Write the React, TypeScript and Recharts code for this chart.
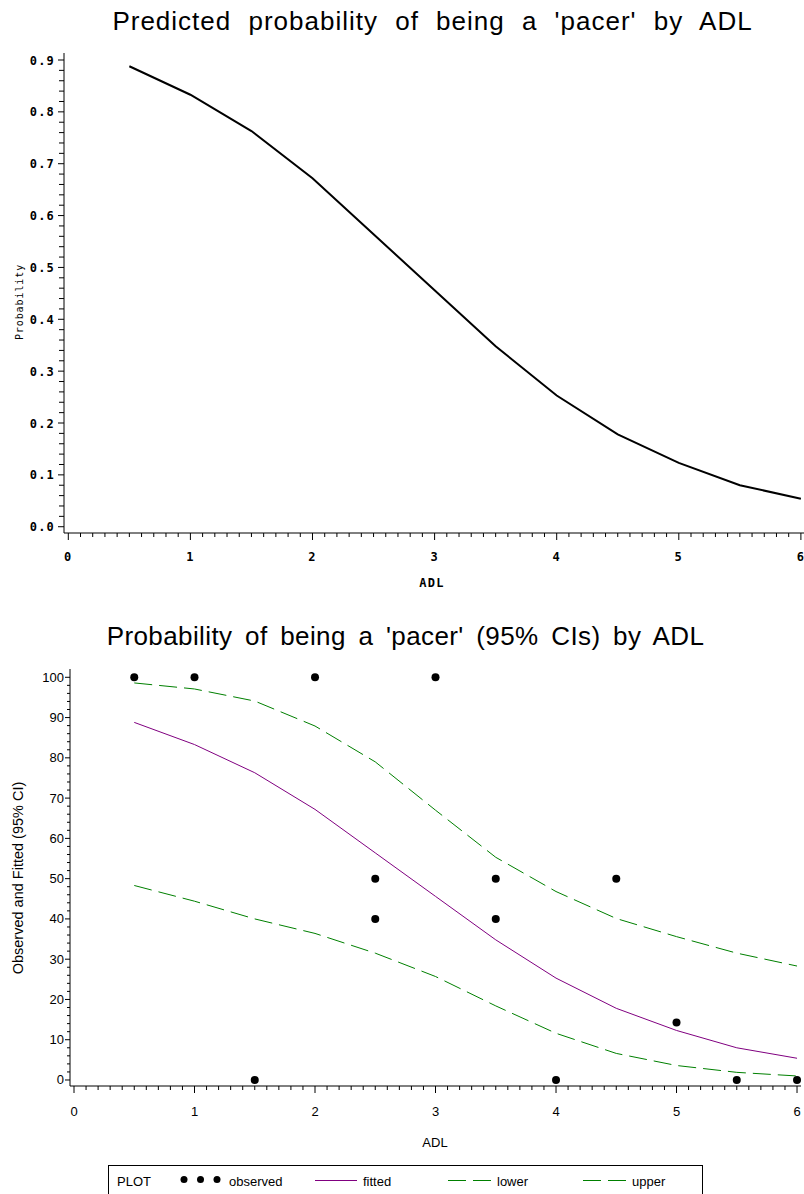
import React from 'react';
import { ComposedChart, LineChart, Line, Scatter, XAxis, YAxis } from 'recharts';

// ---- data ----
const adl = [0.5, 1, 1.5, 2, 2.5, 3, 3.5, 4, 4.5, 5, 5.5, 6];
const predicted = [0.888, 0.833, 0.763, 0.672, 0.564, 0.456, 0.348, 0.253, 0.178, 0.123, 0.08, 0.054];
const fitted = [88.8, 83.3, 76.3, 67.2, 56.4, 45.6, 34.8, 25.3, 17.8, 12.3, 8.0, 5.4];
const lower = [48.3, 44.4, 40.0, 36.4, 31.5, 25.7, 18.4, 11.6, 6.6, 3.6, 1.9, 1.0];
const upper = [98.6, 97.1, 94.1, 87.9, 79.0, 67.0, 55.3, 46.8, 40.1, 35.6, 31.5, 28.3];
const obsAdl = [0.5, 1, 1.5, 2, 2.5, 2.5, 3, 3.5, 3.5, 4, 4.5, 5, 5.5, 6];
const obsPct = [100, 100, 0, 100, 50, 40, 100, 50, 40, 0, 50, 14.3, 0, 0];

const xMajorTicks = [0, 1, 2, 3, 4, 5, 6];
const topYMajorTicks = [0, 0.1, 0.2, 0.3, 0.4, 0.5, 0.6, 0.7, 0.8, 0.9];
const botYMajorTicks = [0, 10, 20, 30, 40, 50, 60, 70, 80, 90, 100];

const topTitle = "Predicted probability of being a 'pacer' by ADL";
const botTitle = "Probability of being a 'pacer' (95% CIs) by ADL";

// minor tick helpers (subdivide major intervals)
const subdivide = (majors: number[], n: number) => {
  const out: number[] = [];
  for (let i = 0; i < majors.length - 1; i++) {
    for (let k = 0; k < n; k++) {
      out.push(+(majors[i] + ((majors[i + 1] - majors[i]) * k) / n).toFixed(6));
    }
  }
  out.push(majors[majors.length - 1]);
  return out;
};

const topData = adl.map((a, i) => ({ adl: a, prob: predicted[i] }));
const botData = adl.map((a, i) => ({ adl: a, fitted: fitted[i], lower: lower[i], upper: upper[i] }));
const obsData = obsAdl.map((a, i) => ({ adl: a, obs: obsPct[i] }));

const isIn = (arr: number[], v: number) => arr.some((m) => Math.abs(m - v) < 1e-6);

const MONO = "'DejaVu Sans Mono', 'Liberation Mono', monospace";
const SANS = "'Liberation Sans', Arial, sans-serif";

const makeXTick = (majors: number[], majorLen: number, minorLen: number, dy: number, style: any, fmt: (v: number) => string) =>
  (props: any) => {
    const { x, y, payload } = props;
    const v = payload.value;
    const major = isIn(majors, v);
    return (
      <g>
        <line x1={x} x2={x} y1={y} y2={y + (major ? majorLen : minorLen)} stroke="#000" strokeWidth={1} />
        {major && (
          <text x={x} y={y + dy} textAnchor="middle" {...style}>
            {fmt(v)}
          </text>
        )}
      </g>
    );
  };

const makeYTick = (majors: number[], majorLen: number, minorLen: number, dx: number, style: any, fmt: (v: number) => string) =>
  (props: any) => {
    const { x, y, payload } = props;
    const v = payload.value;
    const major = isIn(majors, v);
    return (
      <g>
        <line x1={x - (major ? majorLen : minorLen)} x2={x} y1={y} y2={y} stroke="#000" strokeWidth={1} />
        {major && (
          <text x={x - dx} y={y + 4.5} textAnchor="end" {...style}>
            {fmt(v)}
          </text>
        )}
      </g>
    );
  };

const topTickStyle = { fontFamily: MONO, fontWeight: 'bold', fontSize: 12, letterSpacing: 1.2, fill: '#000' };
const botTickStyle = { fontFamily: SANS, fontSize: 13, fill: '#000' };

const TopXTick = makeXTick(xMajorTicks, 7, 4, 28, topTickStyle, (v) => String(v));
const TopYTick = makeYTick(topYMajorTicks, 6, 5, 9, topTickStyle, (v) => v.toFixed(1));
const BotXTick = makeXTick(xMajorTicks, 7, 4, 30, botTickStyle, (v) => String(v));
const BotYTick = makeYTick(botYMajorTicks, 5, 3, 6, botTickStyle, (v) => String(v));

const GREEN = '#008000';
const PURPLE = '#800080';

export default function App() {
  return (
    <div style={{ position: 'absolute', left: 0, top: 0, width: 804, height: 1194, background: '#fff', overflow: 'hidden' }}>
      {/* Top chart */}
      <div style={{ position: 'absolute', left: 0, top: 0 }}>
        <LineChart width={804} height={600} data={topData} margin={{ top: 53, right: 0, left: 0, bottom: 0 }}>
          <XAxis
            xAxisId="top"
            orientation="top"
            type="number"
            dataKey="adl"
            domain={[-0.0352, 6.0254]}
            height={0}
            tick={false}
            tickLine={false}
            axisLine={{ stroke: '#000' }}
          />
          <XAxis
            type="number"
            dataKey="adl"
            domain={[-0.0352, 6.0254]}
            ticks={subdivide(xMajorTicks, 10)}
            interval={0}
            height={67}
            tickSize={0}
            tickMargin={0}
            tickLine={false}
            tick={TopXTick}
            axisLine={{ stroke: '#000' }}
          />
          <YAxis
            type="number"
            domain={[-0.0121, 0.9135]}
            ticks={subdivide(topYMajorTicks, 5)}
            interval={0}
            width={64}
            tickSize={0}
            tickMargin={0}
            tickLine={false}
            tick={TopYTick}
            axisLine={{ stroke: '#000' }}
          />
          <Line
            type="linear"
            dataKey="prob"
            stroke="#000"
            strokeWidth={2}
            dot={false}
            isAnimationActive={false}
          />
        </LineChart>
      </div>

      {/* Bottom chart */}
      <div style={{ position: 'absolute', left: 0, top: 600 }}>
        <ComposedChart width={804} height={594} data={botData} margin={{ top: 69, right: 3, left: 0, bottom: 0 }}>
          <XAxis
            xAxisId="top"
            orientation="top"
            type="number"
            dataKey="adl"
            domain={[-0.0332, 6.033]}
            height={0}
            tick={false}
            tickLine={false}
            axisLine={{ stroke: '#000' }}
          />
          <XAxis
            type="number"
            dataKey="adl"
            domain={[-0.0332, 6.033]}
            ticks={subdivide(xMajorTicks, 10)}
            interval={0}
            height={108}
            tickSize={0}
            tickMargin={0}
            tickLine={false}
            tick={BotXTick}
            axisLine={{ stroke: '#000' }}
          />
          <YAxis
            type="number"
            domain={[-1.49, 102.06]}
            ticks={subdivide(botYMajorTicks, 5)}
            interval={0}
            width={70}
            tickSize={0}
            tickMargin={0}
            tickLine={false}
            tick={BotYTick}
            axisLine={{ stroke: '#000' }}
          />
          <YAxis
            yAxisId="right"
            orientation="right"
            type="number"
            domain={[-1.49, 102.06]}
            width={0}
            tick={false}
            tickLine={false}
            axisLine={{ stroke: '#000' }}
          />
          <Line type="linear" dataKey="upper" stroke={GREEN} strokeWidth={1} strokeDasharray="18 7" dot={false} isAnimationActive={false} />
          <Line type="linear" dataKey="lower" stroke={GREEN} strokeWidth={1} strokeDasharray="18 7" dot={false} isAnimationActive={false} />
          <Line type="linear" dataKey="fitted" stroke={PURPLE} strokeWidth={1} dot={false} isAnimationActive={false} />
          <Scatter data={obsData} dataKey="obs" fill="#000" shape={(p: any) => <circle cx={p.cx} cy={p.cy} r={4} fill="#000" />} isAnimationActive={false} />
        </ComposedChart>
      </div>

      {/* Titles, axis labels and legend */}
      <svg width={804} height={1194} style={{ position: 'absolute', left: 0, top: 0, pointerEvents: 'none' }}>
        <text x={432.5} y={30} textAnchor="middle" fontFamily={SANS} fontSize={26} letterSpacing={1} style={{ wordSpacing: 9 }} fill="#000">
          {topTitle}
        </text>
        <text x={405.5} y={645} textAnchor="middle" fontFamily={SANS} fontSize={26} letterSpacing={0.4} style={{ wordSpacing: 5 }} fill="#000">
          {botTitle}
        </text>
        <text
          x={0}
          y={0}
          transform="translate(23,302) rotate(-90)"
          textAnchor="middle"
          fontFamily={MONO}
          fontSize={10}
          letterSpacing={0.9}
          fill="#000"
        >
          Probability
        </text>
        <text x={432} y={587} textAnchor="middle" fontFamily={MONO} fontWeight="bold" fontSize={12} letterSpacing={1.2} fill="#000">
          ADL
        </text>
        <text
          x={0}
          y={0}
          transform="translate(23,878) rotate(-90)"
          textAnchor="middle"
          fontFamily={SANS}
          fontSize={14.5}
          fill="#000"
        >
          Observed and Fitted (95% CI)
        </text>
        <text x={435} y={1146.5} textAnchor="middle" fontFamily={SANS} fontSize={13} fill="#000">
          ADL
        </text>

        {/* legend */}
        <rect x={108.5} y={1165.5} width={594} height={40} fill="none" stroke="#000" strokeWidth={1} />
        <text x={117} y={1186} fontFamily={SANS} fontSize={13} fill="#000">PLOT</text>
        <circle cx={184} cy={1179.5} r={3.5} fill="#000" />
        <circle cx={200.5} cy={1179.5} r={3.5} fill="#000" />
        <circle cx={217} cy={1179.5} r={3.5} fill="#000" />
        <text x={229} y={1186} fontFamily={SANS} fontSize={13} fill="#000">observed</text>
        <line x1={315} x2={357} y1={1180.5} y2={1180.5} stroke={PURPLE} strokeWidth={1} />
        <text x={363} y={1186} fontFamily={SANS} fontSize={13} fill="#000">fitted</text>
        <line x1={448} x2={491} y1={1180.5} y2={1180.5} stroke={GREEN} strokeWidth={1} strokeDasharray="18 7" />
        <text x={497} y={1186} fontFamily={SANS} fontSize={13} fill="#000">lower</text>
        <line x1={583} x2={627} y1={1180.5} y2={1180.5} stroke={GREEN} strokeWidth={1} strokeDasharray="18 7" />
        <text x={632} y={1186} fontFamily={SANS} fontSize={13} fill="#000">upper</text>
      </svg>
    </div>
  );
}
